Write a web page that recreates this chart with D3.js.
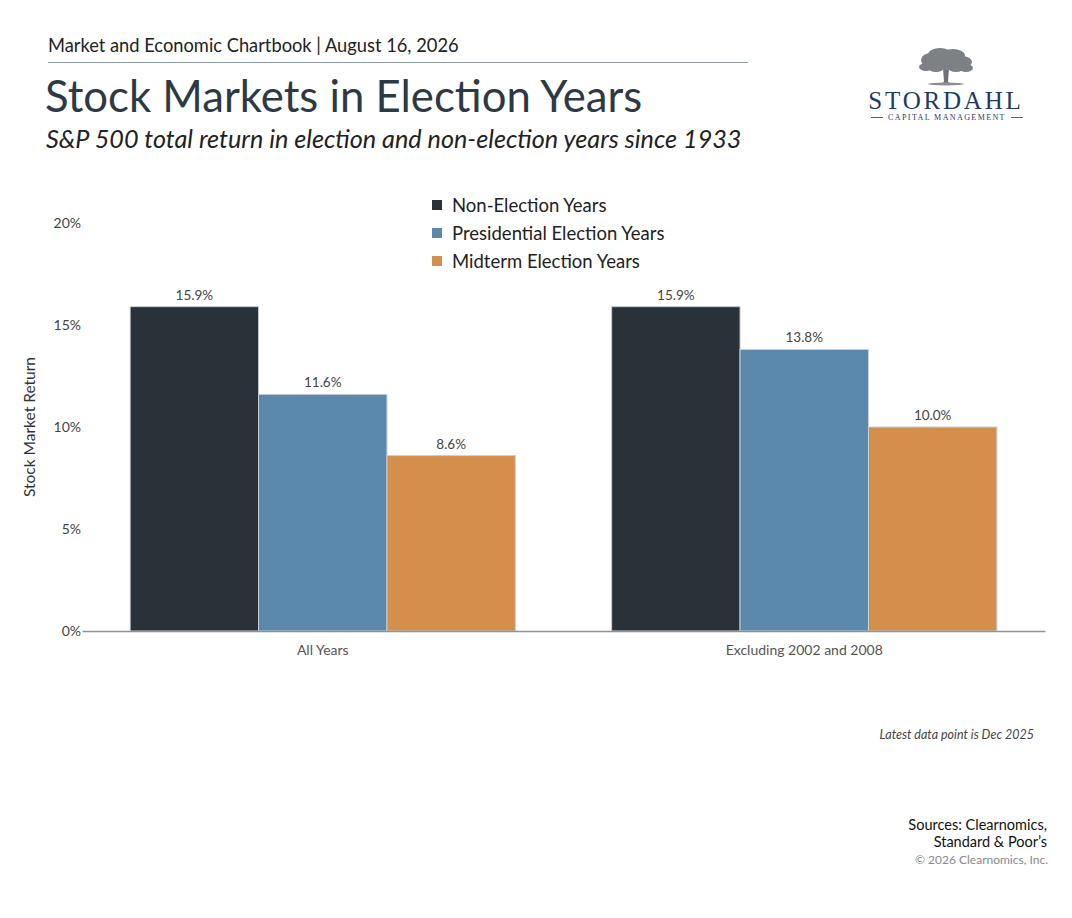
<!DOCTYPE html>
<html>
<head>
<meta charset="utf-8">
<script src="https://cdn.jsdelivr.net/npm/d3@7"></script>
<style>
  body { margin: 0; background: #fff; }
  svg { display: block; }
  text { font-family: "Source Sans Pro", Lato, "Noto Sans", sans-serif; }
</style>
</head>
<body>
<svg id="chart" width="1072" height="918"></svg>
<script>
const categories = ["All Years", "Excluding 2002 and 2008"];
const seriesNames = ["Non-Election Years", "Presidential Election Years", "Midterm Election Years"];
const nonElection = [15.9, 15.9];
const presidential = [11.6, 13.8];
const midterm = [8.6, 10.0];
const yTicks = [0, 5, 10, 15, 20];
const colors = ["#283238", "#5b88ad", "#d58f4c"];

const seriesValues = [nonElection, presidential, midterm];
const data = categories.map((c, i) => ({
  category: c,
  values: seriesNames.map((s, j) => ({ series: s, value: seriesValues[j][i], idx: j }))
}));

const svg = d3.select("#chart");

// Header
svg.append("text").attr("x", 48).attr("y", 52).attr("font-size", 18.3).attr("fill", "#222")
  .text("Market and Economic Chartbook | August 16, 2026");
svg.append("line").attr("x1", 48).attr("x2", 748).attr("y1", 62.5).attr("y2", 62.5)
  .attr("stroke", "#8d9cab").attr("stroke-width", 1);
svg.append("text").attr("x", 45).attr("y", 112).attr("font-size", 43.7).attr("fill", "#2d3a44")
  .text("Stock Markets in Election Years");
svg.append("text").attr("x", 46).attr("y", 148).attr("font-size", 25.2).attr("font-style", "italic").attr("fill", "#222")
  .text("S&P 500 total return in election and non-election years since 1933");

// Logo
const logo = svg.append("g").attr("transform", "translate(946,72)");
logo.append("path").attr("d", "M-3,-4 L-2,10 L-6,12 L6,12 L2,10 L3,-4 Z").attr("fill", "#6e7277");
const canopy = [[-15,-12,10,7],[-6,-17,12,7],[7,-16,12,7],[16,-10,10,6],[0,-9,18,7],[-20,-5,7,4],[20,-4,7,4],[-10,-4,8,4],[10,-4,8,4]];
canopy.forEach(c => logo.append("ellipse").attr("cx", c[0]).attr("cy", c[1]).attr("rx", c[2]).attr("ry", c[3]).attr("fill", "#7d8186"));
logo.append("ellipse").attr("cx", 0).attr("cy", 12).attr("rx", 18).attr("ry", 1.5).attr("fill", "#8a8e93");
svg.append("text").attr("x", 946).attr("y", 109).attr("text-anchor", "middle")
  .style("font-family", "'Liberation Serif', serif")
  .attr("font-size", 25).attr("letter-spacing", 2.8).attr("fill", "#1f3a6a").text("STORDAHL");
svg.append("text").attr("x", 947).attr("y", 120).attr("text-anchor", "middle")
  .style("font-family", "'Liberation Serif', serif")
  .attr("font-size", 8).attr("letter-spacing", 1.4).attr("fill", "#1f3a6a").text("CAPITAL MANAGEMENT");
svg.append("line").attr("x1", 871).attr("x2", 883).attr("y1", 117.5).attr("y2", 117.5).attr("stroke", "#1f3a6a").attr("stroke-width", 0.8);
svg.append("line").attr("x1", 1011).attr("x2", 1023).attr("y1", 117.5).attr("y2", 117.5).attr("stroke", "#1f3a6a").attr("stroke-width", 0.8);

// Scales
const x0 = d3.scaleBand().domain(categories).range([82, 1045]).paddingInner(0.2).paddingOuter(0.1);
const x1 = d3.scaleBand().domain(seriesNames).range([0, x0.bandwidth()]);
const y = d3.scaleLinear().domain([0, 20]).range([631, 223]);

// Y axis labels
const yAxis = d3.axisLeft(y).tickValues(yTicks).tickFormat(d => d + "%").tickSize(0).tickPadding(0);
const yg = svg.append("g").attr("transform", "translate(81,0)").call(yAxis);
yg.select(".domain").remove();
yg.selectAll("text").attr("font-size", 14).attr("fill", "#444")
  .style("font-family", "'Source Sans Pro', Lato, sans-serif");

svg.append("text").attr("transform", `translate(35,${y(10)}) rotate(-90)`).attr("text-anchor", "middle")
  .attr("font-size", 15.5).attr("fill", "#333").text("Stock Market Return");

// Bars
const groups = svg.append("g").selectAll("g").data(data).join("g")
  .attr("transform", d => `translate(${x0(d.category)},0)`);
groups.selectAll("rect").data(d => d.values).join("rect")
  .attr("x", d => x1(d.series))
  .attr("y", d => y(d.value))
  .attr("width", x1.bandwidth())
  .attr("height", d => y(0) - y(d.value))
  .attr("fill", d => colors[d.idx])
  .attr("stroke", "#c8cfd6").attr("stroke-width", 1);
groups.selectAll("text.val").data(d => d.values).join("text").attr("class", "val")
  .attr("x", d => x1(d.series) + x1.bandwidth() / 2)
  .attr("y", d => y(d.value) - 7)
  .attr("text-anchor", "middle").attr("font-size", 13.5).attr("fill", "#444")
  .text(d => d.value.toFixed(1) + "%");

// X axis
const xAxis = d3.axisBottom(x0).tickSize(0).tickPadding(14);
const xg = svg.append("g").attr("transform", `translate(0,${y(0)})`).call(xAxis);
xg.select(".domain").attr("stroke", "#8d959c").attr("stroke-width", 1.5);
xg.selectAll("text").attr("font-size", 14).attr("fill", "#555")
  .style("font-family", "'Source Sans Pro', Lato, sans-serif");

// Legend
const legend = svg.append("g").attr("transform", "translate(432,205)");
seriesNames.forEach((s, i) => {
  const g = legend.append("g").attr("transform", `translate(0,${i * 28})`);
  g.append("rect").attr("x", 0).attr("y", -5).attr("width", 10).attr("height", 10).attr("fill", colors[i]);
  g.append("text").attr("x", 20).attr("y", 6.5).attr("font-size", 18.5).attr("fill", "#222").text(s);
});

// Footer
svg.append("text").attr("x", 1034).attr("y", 739).attr("text-anchor", "end").attr("font-size", 12.5)
  .attr("font-style", "italic").attr("fill", "#444").text("Latest data point is Dec 2025");
svg.append("text").attr("x", 1047).attr("y", 830).attr("text-anchor", "end").attr("font-size", 14.5)
  .attr("fill", "#111").text("Sources: Clearnomics,");
svg.append("text").attr("x", 1047).attr("y", 847).attr("text-anchor", "end").attr("font-size", 14.5)
  .attr("fill", "#111").text("Standard & Poor’s");
svg.append("text").attr("x", 1048).attr("y", 864).attr("text-anchor", "end").attr("font-size", 12)
  .attr("fill", "#888").text("© 2026 Clearnomics, Inc.");
</script>
</body>
</html>
